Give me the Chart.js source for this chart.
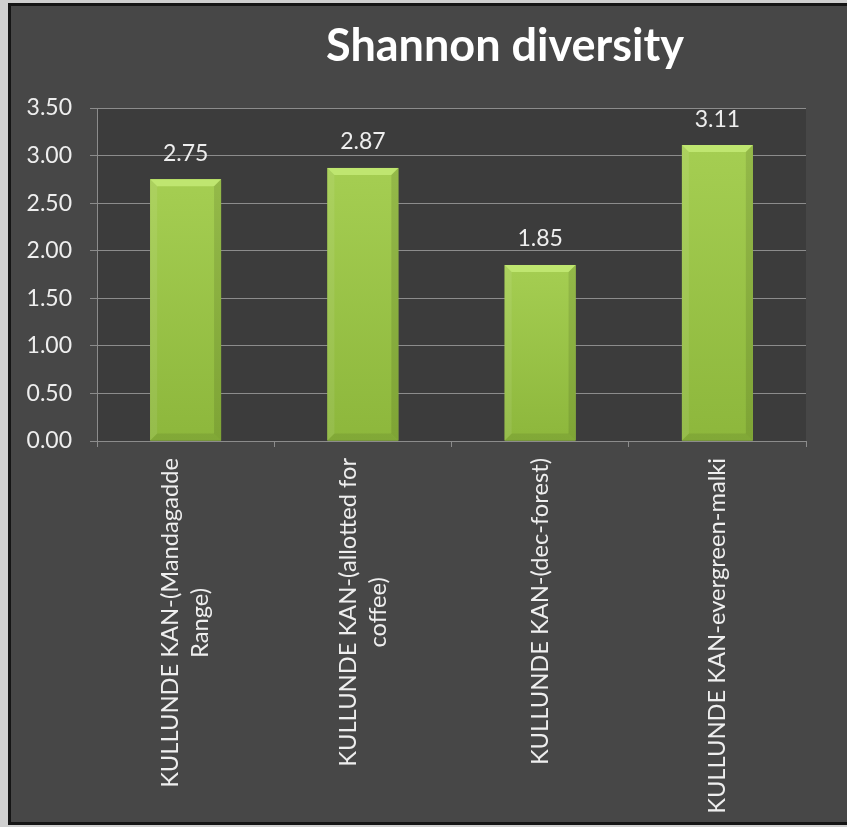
<!DOCTYPE html>
<html><head><meta charset="utf-8">
<script src="https://cdn.jsdelivr.net/npm/chart.js@4.4.0/dist/chart.umd.min.js"></script>
<style>html,body{margin:0;padding:0;background:#d0d0d0;overflow:hidden}#wrap{width:847px;height:827px}</style>
</head><body><div id="wrap"><canvas id="c" width="847" height="827"></canvas></div>
<script>
const titleText = 'Shannon diversity';
const categories = [
  ['KULLUNDE KAN-(Mandagadde', 'Range)'],
  ['KULLUNDE KAN-(allotted for', 'coffee)'],
  ['KULLUNDE KAN-(dec-forest)'],
  ['KULLUNDE KAN-evergreen-malki']
];
const shannonValues = [2.75, 2.87, 1.85, 3.11];
const yMin = 0, yMax = 3.5, yStep = 0.5;

const FONT = 'Lato, "Open Sans", sans-serif';

const bgPlugin = {
  id: 'bg',
  beforeDraw(chart) {
    const ctx = chart.ctx, ca = chart.chartArea;
    ctx.save();
    ctx.fillStyle = '#cfcfcf';
    ctx.fillRect(0, 0, chart.width, chart.height);
    ctx.fillStyle = '#474747';
    ctx.fillRect(8, 3, chart.width - 8, chart.height - 5);
    ctx.strokeStyle = '#151515';
    ctx.lineWidth = 3;
    ctx.strokeRect(9.5, 4.5, chart.width, chart.height - 8);
    ctx.fillStyle = '#3c3c3c';
    ctx.fillRect(ca.left, ca.top, ca.right - ca.left, ca.bottom - ca.top);
    ctx.restore();
  }
};

const barStylePlugin = {
  id: 'barStyle',
  afterDatasetsDraw(chart) {
    const ctx = chart.ctx;
    const meta = chart.getDatasetMeta(0);
    ctx.save();
    meta.data.forEach((el, i) => {
      const w = el.width, l = el.x - w / 2, r = el.x + w / 2, t = el.y, b = el.base;
      const bv = 7;
      const g = ctx.createLinearGradient(0, t, 0, b);
      g.addColorStop(0, '#a5ce52');
      g.addColorStop(1, '#8db73c');
      ctx.fillStyle = g;
      ctx.fillRect(l, t, w, b - t);
      ctx.fillStyle = '#bfe670';
      ctx.beginPath(); ctx.moveTo(l, t); ctx.lineTo(r, t); ctx.lineTo(r - bv, t + bv); ctx.lineTo(l + bv, t + bv); ctx.closePath(); ctx.fill();
      ctx.fillStyle = 'rgba(255,255,255,0.08)';
      ctx.beginPath(); ctx.moveTo(l, t); ctx.lineTo(l + bv, t + bv); ctx.lineTo(l + bv, b - bv); ctx.lineTo(l, b); ctx.closePath(); ctx.fill();
      ctx.fillStyle = 'rgba(0,0,0,0.10)';
      ctx.beginPath(); ctx.moveTo(r, t); ctx.lineTo(r - bv, t + bv); ctx.lineTo(r - bv, b - bv); ctx.lineTo(r, b); ctx.closePath(); ctx.fill();
      ctx.fillStyle = 'rgba(0,0,0,0.08)';
      ctx.beginPath(); ctx.moveTo(l, b); ctx.lineTo(l + bv, b - bv); ctx.lineTo(r - bv, b - bv); ctx.lineTo(r, b); ctx.closePath(); ctx.fill();
      ctx.fillStyle = '#eeeeee';
      ctx.font = '23px ' + FONT;
      ctx.textAlign = 'center';
      ctx.textBaseline = 'middle';
      ctx.fillText(shannonValues[i].toFixed(2), el.x, t - 26);
    });
    ctx.restore();
  }
};

const textPlugin = {
  id: 'texts',
  afterDraw(chart) {
    const ctx = chart.ctx, ca = chart.chartArea, xs = chart.scales.x;
    ctx.save();
    ctx.fillStyle = '#ffffff';
    ctx.font = 'bold 45px ' + FONT;
    ctx.textAlign = 'center';
    ctx.textBaseline = 'alphabetic';
    ctx.fillText(titleText, 505, 61);

    ctx.fillStyle = '#eeeeee';
    ctx.font = '23.7px ' + FONT;
    const lh = 30;
    categories.forEach((lines, i) => {
      const x = xs.getPixelForValue(i);
      const y0 = ca.bottom + 17;
      const maxW = Math.max(...lines.map(s => ctx.measureText(s).width));
      ctx.save();
      ctx.translate(x, y0);
      ctx.rotate(-Math.PI / 2);
      ctx.textAlign = 'center';
      ctx.textBaseline = 'middle';
      lines.forEach((s, j) => {
        ctx.fillText(s, -maxW / 2, (j - (lines.length - 1) / 2) * lh);
      });
      ctx.restore();
    });
    ctx.restore();
  }
};

new Chart(document.getElementById('c'), {
  type: 'bar',
  data: {
    labels: categories,
    datasets: [{
      data: shannonValues,
      backgroundColor: '#9cc44c',
      borderWidth: 0,
      categoryPercentage: 1,
      barPercentage: 0.4
    }]
  },
  options: {
    responsive: false,
    devicePixelRatio: 1,
    animation: false,
    layout: { padding: { left: 10, right: 41, top: 108, bottom: 0 } },
    plugins: { legend: { display: false }, tooltip: { enabled: false }, title: { display: false } },
    scales: {
      x: {
        ticks: { display: false },
        grid: { drawOnChartArea: false, offset: true, tickLength: 6, color: '#8c8c8c' },
        border: { color: '#8c8c8c' },
        afterFit: s => { s.height = 386; }
      },
      y: {
        min: yMin, max: yMax,
        ticks: { stepSize: yStep, callback: v => Number(v).toFixed(2), color: '#eeeeee', font: { family: FONT, size: 23 }, padding: 18 },
        grid: { color: '#8c8c8c', tickLength: 7 },
        border: { color: '#8c8c8c' },
        afterFit: s => { s.width = 87; }
      }
    }
  },
  plugins: [bgPlugin, barStylePlugin, textPlugin]
});
</script></body></html>
